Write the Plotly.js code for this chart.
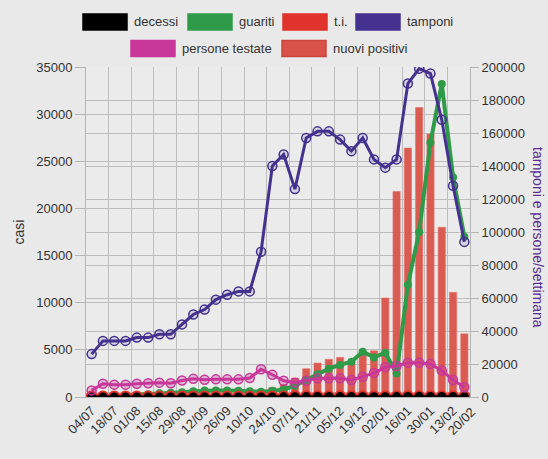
<!DOCTYPE html>
<html>
<head>
<meta charset="utf-8">
<script src="https://cdn.plot.ly/plotly-3.0.1.min.js"></script>
<style>
  html, body { margin: 0; padding: 0; background: #e9e9e9; }
  #chart { width: 548px; height: 459px; }
</style>
</head>
<body>
<div id="chart"></div>
<script>
// ---- data (weekly) ----
const weeks = ['04/07','11/07','18/07','25/07','01/08','08/08','15/08','22/08','29/08','05/09',
  '12/09','19/09','26/09','03/10','10/10','17/10','24/10','31/10','07/11','14/11',
  '21/11','28/11','05/12','12/12','19/12','26/12','02/01','09/01','16/01','23/01',
  '30/01','06/02','13/02','20/02'];
const tickLabels = ['04/07','18/07','01/08','15/08','29/08','12/09','26/09','10/10','24/10',
  '07/11','21/11','05/12','19/12','02/01','16/01','30/01','13/02','20/02'];

const decessi = [0,0,0,0,0,0,0,0,0,0, 0,0,0,0,0,0,10,20,30,40, 50,50,40,40,30,30,30,40,60,70, 60,50,40,30];
const terapiaIntensiva = [0,0,0,0,0,0,0,0,0,0, 0,0,0,0,0,0,5,10,15,20, 20,20,20,20,15,15,15,20,30,30, 30,25,20,15];
const guariti = [0,50,100,150,200,300,400,450,500,600, 700,700,700,650,600,550,650,800,1200,1800,
  2400,3000,3400,3750,4800,4200,4700,2500,11900,17500, 27000,33200,23300,17000];
const nuoviPositivi = [100,150,200,250,300,350,400,450,500,550, 600,600,650,700,700,800,1000,1300,2000,3000,
  3600,4000,4200,3700,4800,4900,10500,21800,26400,30700, 27900,18000,11100,6700];
const tamponi = [26000,34000,34000,34000,36000,36000,38000,38000,44000,50000,
  53000,59000,62000,64000,64000,88000,140000,147000,126000,157000,
  161000,161000,156000,149000,157000,144000,139000,144000,190000,199000,
  196000,168000,128000,94000];
const personeTestate = [4000,8000,7500,7500,8000,8300,8700,8300,10000,11000,
  10500,10700,10700,10700,11500,16800,13500,9800,8700,9800,
  11300,11300,11300,10300,12300,14500,18000,18800,20800,20800,
  20000,16000,10300,5900];

const seriesNames = ['decessi','guariti','t.i.','tamponi','persone testate','nuovi positivi'];
const seriesColors = ['#000000','#2f9a48','#e0332b','#45318f','#c8379a','#d9534a'];

// ---- build ----
const xi = weeks.map((_, i) => i);
const axisLabels = tickLabels.slice(0, -1);       // drawn as axis tick labels
const lastLabel = tickLabels[tickLabels.length - 1]; // drawn offset at the right end, like the original
const tickvals = axisLabels.map(l => weeks.indexOf(l));
const gridvals = [];
for (let v = -0.5; v <= weeks.length - 0.5; v += 2) gridvals.push(v);

const traces = [
  { type: 'bar', x: xi, y: nuoviPositivi, name: seriesNames[5], yaxis: 'y',
    width: 0.64, marker: { color: 'rgba(217,83,74,0.95)', line: { color: '#e5716a', width: 0.6 } } },
  { type: 'scatter', mode: 'lines+markers', x: xi, y: guariti, name: seriesNames[1], yaxis: 'y',
    line: { color: seriesColors[1], width: 4 }, marker: { color: seriesColors[1], size: 8 } },
  { type: 'scatter', mode: 'lines+markers', x: xi, y: terapiaIntensiva, name: seriesNames[2], yaxis: 'y',
    line: { color: seriesColors[2], width: 4 }, marker: { color: seriesColors[2], size: 13 } },
  { type: 'scatter', mode: 'lines+markers', x: xi, y: decessi, name: seriesNames[0], yaxis: 'y',
    line: { color: seriesColors[0], width: 3 }, marker: { color: seriesColors[0], size: 9 } },
  { type: 'scatter', mode: 'lines+markers', x: xi, y: personeTestate, name: seriesNames[4], yaxis: 'y2',
    line: { color: seriesColors[4], width: 3 },
    marker: { color: 'rgba(200,55,154,0.3)', size: 9, line: { color: seriesColors[4], width: 1.5 } } },
  { type: 'scatter', mode: 'lines+markers', x: xi, y: tamponi, name: seriesNames[3], yaxis: 'y2',
    line: { color: seriesColors[3], width: 3 },
    marker: { color: 'rgba(69,49,143,0.12)', size: 9, line: { color: seriesColors[3], width: 1.5 } } }
];

// ---- custom legend (Chart.js-style boxes) ----
const W = 548, H = 459, L = 86, R = 78, T = 67, B = 62;
const pw = W - L - R, ph = H - T - B;
const px = x => (x - L) / pw;
const py = y => (H - B - y) / ph;
const legendSlots = [ // [box left px, row center px]
  [83, 22], [188, 22], [283, 22], [356, 22], [131, 48.5], [282, 48.5]
];
const shapes = [], annotations = [];
seriesNames.forEach((name, i) => {
  const [bx, cy] = legendSlots[i];
  shapes.push({ type: 'rect', xref: 'paper', yref: 'paper',
    x0: px(bx), x1: px(bx + 44), y0: py(cy - 8), y1: py(cy + 8),
    fillcolor: seriesColors[i], line: { color: i === 5 ? '#c9453d' : seriesColors[i], width: 1.5 } });
  annotations.push({ xref: 'paper', yref: 'paper', x: px(bx + 49), y: py(cy), xanchor: 'left', yanchor: 'middle',
    text: name, showarrow: false, font: { family: 'Liberation Sans, Arial, sans-serif', size: 13, color: '#333' } });
});
annotations.push({ xref: 'paper', yref: 'paper', x: px(538), y: py(237), xanchor: 'center', yanchor: 'middle',
  text: 'tamponi e persone/settimana', textangle: 90, showarrow: false,
  font: { family: 'Liberation Sans, Arial, sans-serif', size: 14, color: '#5a2d91' } });
annotations.push({ xref: 'paper', yref: 'paper', x: px(461), y: py(421), xanchor: 'center', yanchor: 'middle',
  text: lastLabel, textangle: -45, showarrow: false,
  font: { family: 'Liberation Sans, Arial, sans-serif', size: 13, color: '#333' } });

const font = { family: 'Liberation Sans, Arial, sans-serif', size: 13, color: '#333' };
const layout = {
  width: W, height: H,
  margin: { l: L, r: R, t: T, b: B, pad: 0 },
  paper_bgcolor: '#e9e9e9', plot_bgcolor: '#ebebeb',
  showlegend: false, font: font,
  xaxis: {
    range: [-0.5, weeks.length - 0.5], tickmode: 'array', tickvals: tickvals, ticktext: axisLabels,
    tickangle: -45, showgrid: false, zeroline: false, showline: true, linecolor: '#b5b5b5',
    ticks: '', tickfont: font,
    minor: { tickmode: 'array', tickvals: gridvals, showgrid: true, gridcolor: '#bdbdbd', gridwidth: 1, ticks: '' }
  },
  yaxis: {
    title: { text: 'casi', font: { family: 'Liberation Sans, Arial, sans-serif', size: 14, color: '#333' }, standoff: 8 },
    range: [0, 35000], dtick: 5000, tickformat: 'd', showgrid: true, gridcolor: '#bdbdbd', gridwidth: 1,
    zeroline: false, showline: true, linecolor: '#b5b5b5', ticks: 'outside', ticklen: 10, tickcolor: '#b5b5b5',
    tickfont: font
  },
  yaxis2: {
    overlaying: 'y', side: 'right', range: [0, 200000], dtick: 20000, tickformat: 'd', showgrid: true, gridcolor: '#bdbdbd',
    gridwidth: 1, zeroline: false, showline: true, linecolor: '#b5b5b5', ticks: 'outside', ticklen: 8,
    tickcolor: '#b5b5b5', tickfont: font
  },
  shapes: shapes, annotations: annotations
};

Plotly.newPlot('chart', traces, layout, { displayModeBar: false, staticPlot: true });
</script>
</body>
</html>
